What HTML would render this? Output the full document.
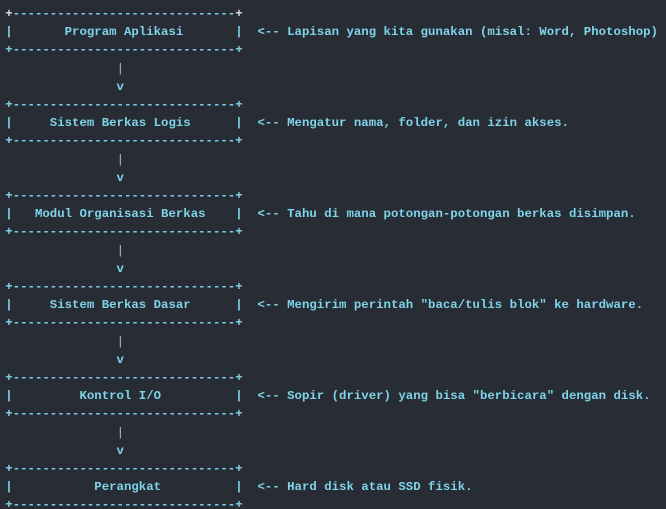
<!DOCTYPE html>
<html><head><meta charset="utf-8"><style>
html,body{margin:0;padding:0;background:#282c34;width:666px;height:509px;overflow:hidden}
pre{margin:0;padding:5px 0 0 5.3px;font-family:"Liberation Mono",monospace;font-size:12.36px;line-height:18.2px;font-weight:bold;color:#7fd4ea;white-space:pre}
.w{color:#d8dde3}.g{color:#b8bcc2;font-weight:normal}
</style></head><body><pre><span class="w">+</span>------------------------------<span class="w">+</span>
|       Program Aplikasi       |  &lt;-- Lapisan yang kita gunakan (misal: Word, Photoshop)
+------------------------------+
               <span class="g">|</span>
               v
+------------------------------+
|     Sistem Berkas Logis      |  &lt;-- Mengatur nama, folder, dan izin akses.
+------------------------------+
               <span class="g">|</span>
               v
+------------------------------+
|   Modul Organisasi Berkas    |  &lt;-- Tahu di mana potongan-potongan berkas disimpan.
+------------------------------+
               <span class="g">|</span>
               v
+------------------------------+
|     Sistem Berkas Dasar      |  &lt;-- Mengirim perintah "baca/tulis blok" ke hardware.
+------------------------------+
               <span class="g">|</span>
               v
+------------------------------+
|         Kontrol I/O          |  &lt;-- Sopir (driver) yang bisa "berbicara" dengan disk.
+------------------------------+
               <span class="g">|</span>
               v
+------------------------------+
|           Perangkat          |  &lt;-- Hard disk atau SSD fisik.
+------------------------------+</pre></body></html>
